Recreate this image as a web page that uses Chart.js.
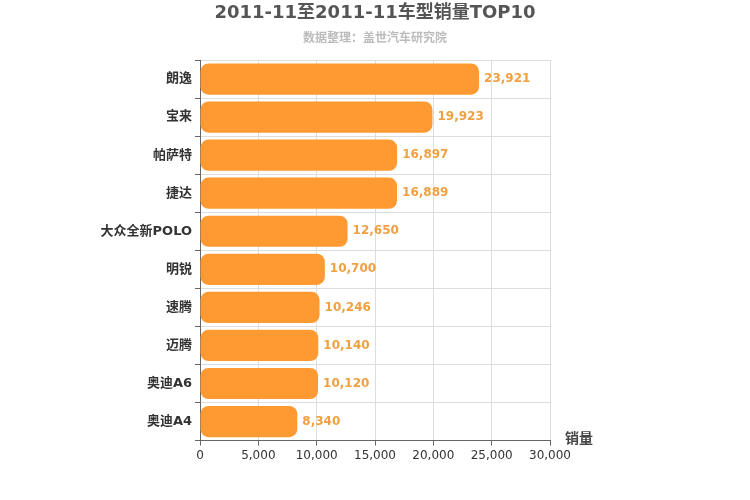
<!DOCTYPE html>
<html>
<head>
<meta charset="utf-8">
<script src="https://cdn.jsdelivr.net/npm/chart.js@4/dist/chart.umd.min.js"></script>
<style>
  body { margin: 0; background: #fff; }
</style>
</head>
<body>
<canvas id="salesChart" width="750" height="500"></canvas>
<script>
let models = [`朗逸`, `宝来`, `帕萨特`, `捷达`, `大众全新POLO`, `明锐`, `速腾`, `迈腾`, `奥迪A6`, `奥迪A4`]
let sales = [23921, 19923, 16897, 16889, 12650, 10700, 10246, 10140, 10120, 8340]

let font = `"DejaVu Sans", "Noto Sans CJK SC", sans-serif`

// titles, value labels and axis name
const extras = {
    id: `extras`,
    afterDraw(chart) {
        const c = chart.ctx
        c.save()
        c.textAlign = `center`
        c.textBaseline = `middle`
        c.fillStyle = `#555`
        c.font = `bold 18px ${font}`
        c.fillText(`2011-11至2011-11车型销量TOP10`, 375, 13)
        c.fillStyle = `#bbb`
        c.font = `bold 12px ${font}`
        c.fillText(`数据整理：盖世汽车研究院`, 375, 39)

        c.fillStyle = `#f0a040`
        c.font = `bold 12px ${font}`
        c.textAlign = `left`
        chart.getDatasetMeta(0).data.forEach((bar, i) => {
            c.fillText(sales[i].toLocaleString(`en-US`), bar.x + 5, bar.y)
        })

        c.fillStyle = `#444`
        c.font = `bold 14px ${font}`
        c.fillText(`销量`, 565, 439)
        c.restore()
    }
}

new Chart(document.getElementById(`salesChart`), {
    type: `bar`,
    data: {
        labels: models,
        datasets: [{
            data: sales,
            backgroundColor: `#ff9a33`,
            borderRadius: 8,
            borderSkipped: false,
            barPercentage: 0.82,
            categoryPercentage: 1
        }]
    },
    options: {
        indexAxis: `y`,
        responsive: false,
        animation: false,
        devicePixelRatio: 1,
        layout: { padding: { top: 60, right: 200, bottom: 34, left: 0 } },
        plugins: { legend: { display: false }, tooltip: { enabled: false } },
        scales: {
            x: {
                min: 0, max: 30000,
                ticks: { stepSize: 5000, color: `#333`, font: { family: font, size: 12 },
                    callback: (v) => v.toLocaleString(`en-US`) },
                grid: { color: `#ddd`, tickColor: `#666`, tickLength: 5 },
                border: { color: `#666` }
            },
            y: {
                afterFit: (s) => { s.width = 200 },
                ticks: { color: `#333`, font: { family: font, size: 13, weight: `bold` } },
                grid: { color: `#ddd`, offset: true, tickLength: 5, tickColor: `#666` },
                border: { color: `#666` }
            }
        }
    },
    plugins: [extras]
})
</script>
</body>
</html>
